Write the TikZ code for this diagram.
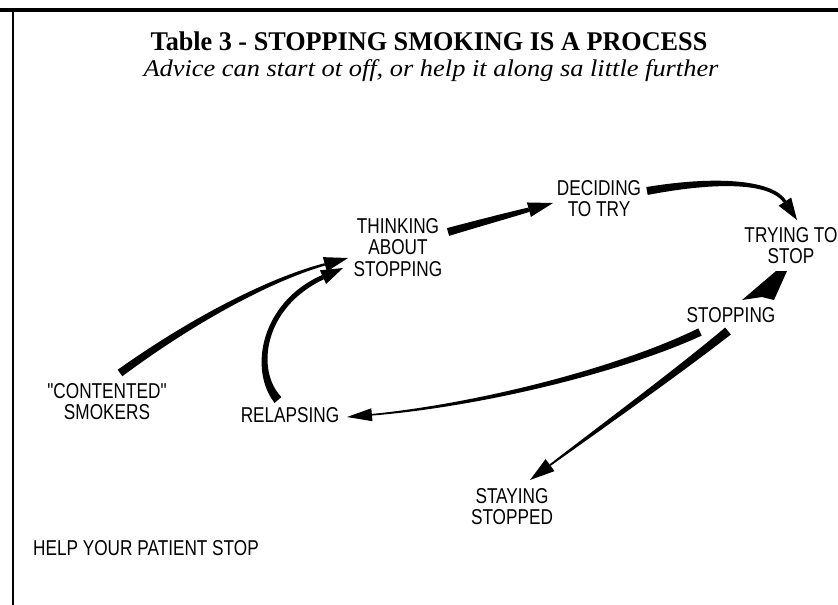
\documentclass[tikz,border=0pt]{standalone}
\usepackage{fontspec}
\setmainfont{Liberation Serif}
\newfontfamily\labfont[FakeStretch=0.8]{Liberation Sans}
\newfontfamily\titlefont[FakeStretch=0.97]{Liberation Serif}
\newfontfamily\subfont[FakeStretch=1.1]{Liberation Serif}
\usetikzlibrary{calc}
\newcommand\tarrow[8]{%
  \coordinate (tN) at ($(#4)!#7!(#3)$);
  \fill ($(#1)!#5!90:(#2)$) .. controls ($(#2)!{0.66*#5+0.34*#6}!90:(#3)$) and ($(#3)!{0.33*#5+0.67*#6}!90:(tN)$) .. ($(tN)!#6!90:(#4)$)
     -- ($(tN)!#6!-90:(#4)$) .. controls ($(#3)!{0.33*#5+0.67*#6}!-90:(tN)$) and ($(#2)!{0.66*#5+0.34*#6}!-90:(#3)$) .. ($(#1)!#5!-90:(#2)$) -- cycle;
  \fill (#4) -- ($(tN)!#8!90:(#4)$) -- ($(tN)!#8!-90:(#4)$) -- cycle;
}
\tikzset{
  lab/.style={anchor=north, inner sep=0pt, align=center, font=\labfont\fontsize{21.5}{21.5}\selectfont},
}
\begin{document}
\begin{tikzpicture}[x=1pt,y=-1pt]
\useasboundingbox (0,0) rectangle (838,605);
% frame
\draw[line width=4.5pt] (0,10) -- (838,10);
\draw[line width=2pt] (13,10) -- (13,605);
% titles
\node[anchor=base, inner sep=0pt, font=\titlefont\bfseries\fontsize{27}{27}\selectfont] (title) at (429,50) {Table 3 - STOPPING SMOKING IS A PROCESS};
\node[anchor=base, inner sep=0pt, font=\subfont\itshape\fontsize{24}{24}\selectfont] (sub) at (431,76) {Advice can start ot off, or help it along sa little further};
% labels
\node[lab] (think) at (398,218) {THINKING\\ABOUT\\STOPPING};
\node[lab] (decide) at (599,180) {DECIDING\\TO TRY};
\node[lab] (trying) at (791,227) {TRYING TO\\STOP};
\node[lab] (stopping) at (731,307) {STOPPING};
\node[lab] (contented) at (107,383) {"CONTENTED"\\SMOKERS};
\node[lab] (relapsing) at (290,407) {RELAPSING};
\node[lab] (staying) at (512,488) {STAYING\\STOPPED};
\node[lab, anchor=north west] (help) at (33,540) {HELP YOUR PATIENT STOP};
% arrow geometry
\coordinate (a1s) at (120,373); \coordinate (a1a) at (190,322); \coordinate (a1b) at (268,280); \coordinate (a1t) at (348,258);
\coordinate (a2s) at (278,400); \coordinate (a2a) at (252,370); \coordinate (a2b) at (262,305); \coordinate (a2t) at (343,268);
\coordinate (a3s) at (448,232); \coordinate (a3a) at (483,222); \coordinate (a3b) at (517,213); \coordinate (a3t) at (553,203);
\coordinate (a4s) at (647,191); \coordinate (a4a) at (720,178); \coordinate (a4b) at (772,182); \coordinate (a4t) at (797,220);
\coordinate (a5s) at (700,332); \coordinate (a5a) at (620,370); \coordinate (a5b) at (480,405); \coordinate (a5t) at (347,417);
\coordinate (a6s) at (728,331); \coordinate (a6a) at (680,370); \coordinate (a6b) at (600,428); \coordinate (a6t) at (530,480);
\tarrow{a1s}{a1a}{a1b}{a1t}{4pt}{1.2pt}{24pt}{7.5pt}
\tarrow{a2s}{a2a}{a2b}{a2t}{4.5pt}{2.3pt}{22pt}{7.5pt}
\tarrow{a3s}{a3a}{a3b}{a3t}{4pt}{2.2pt}{25pt}{7.5pt}
\tarrow{a4s}{a4a}{a4b}{a4t}{4pt}{1.6pt}{22pt}{7.5pt}
\tarrow{a5s}{a5a}{a5b}{a5t}{4pt}{0.8pt}{25pt}{6.5pt}
\tarrow{a6s}{a6a}{a6b}{a6t}{4.5pt}{0.9pt}{25pt}{7.5pt}
% wedge between trying and stopping
\coordinate (w1) at (776,271); \coordinate (w2) at (787,271); \coordinate (w3) at (774,300); \coordinate (w4) at (762,297); \coordinate (w5) at (742,300);
\fill (w1) -- (w2) -- (w3) -- (w4) -- (w5) -- cycle;
\end{tikzpicture}
\end{document}
